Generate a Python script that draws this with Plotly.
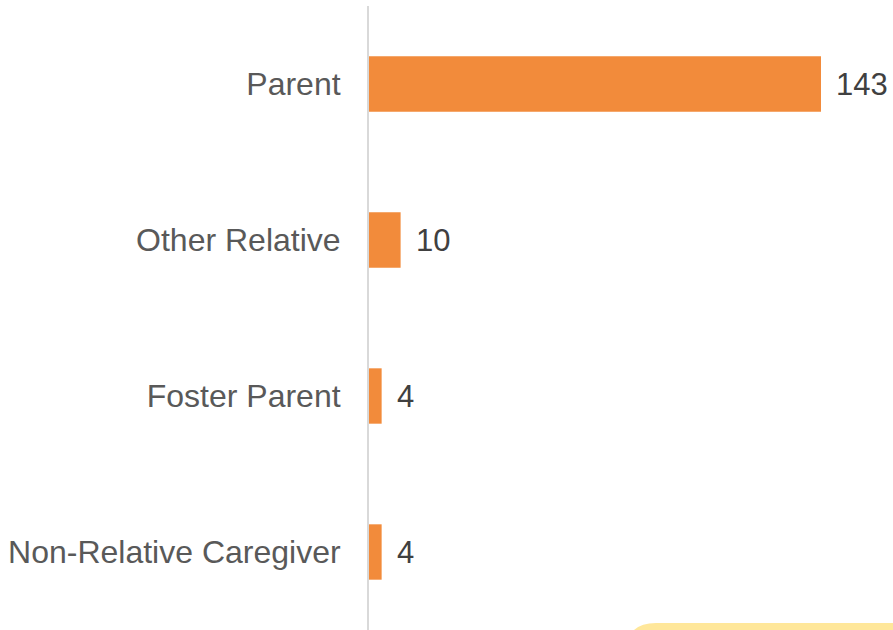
import plotly.graph_objects as go

categories = ["Parent", "Other Relative", "Foster Parent", "Non-Relative Caregiver"]
values = [143, 10, 4, 4]

W, H = 893, 630
L, T = 369, 6
pw, ph = W - L, H - T
FS = 32

fig = go.Figure()
fig.add_trace(go.Bar(
    y=categories, x=values, orientation="h",
    marker=dict(color="#F28B3B", line=dict(width=0)),
    width=0.355, hoverinfo="skip",
))

for c, v in zip(categories, values):
    fig.add_annotation(x=v, y=c, text=str(v), showarrow=False,
                       xanchor="left", xshift=13,
                       font=dict(family="Liberation Sans, Arial", size=FS - 1, color="#404040"))

# rounded yellow shape at bottom right
x0 = (626 - L) / pw
rx = 30 / pw
top = (H - 623) / ph
ry = 30 / ph
path = (f"M {x0},-0.2 L {x0},{top-ry} Q {x0},{top} {x0+rx},{top} "
        f"L 1.3,{top} L 1.3,-0.2 Z")
fig.add_shape(type="path", path=path, xref="paper", yref="paper",
              fillcolor="#FFE79A", line=dict(width=0), layer="above")

fig.update_layout(
    width=W, height=H,
    margin=dict(l=L, r=0, t=T, b=0),
    plot_bgcolor="white", paper_bgcolor="white",
    showlegend=False,
    font=dict(family="Liberation Sans, Arial", size=FS, color="#595959"),
    xaxis=dict(range=[0, 143 * pw / 452], visible=False, showgrid=False, zeroline=False),
    yaxis=dict(autorange="reversed", showline=True, linecolor="#D9D9D9", linewidth=2,
               showgrid=False, ticks="", ticklabelstandoff=20,
               tickfont=dict(family="Liberation Sans, Arial", size=FS, color="#595959")),
)

fig.write_html("out.html", config={"displayModeBar": False},
               post_script="document.body.style.margin='0';document.body.style.overflow='hidden';")
